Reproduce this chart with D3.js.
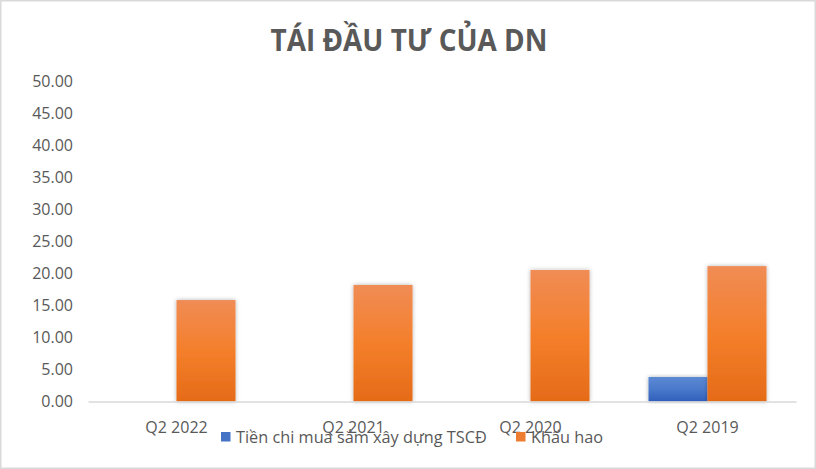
<!DOCTYPE html>
<html><head><meta charset="utf-8">
<script src="https://cdn.jsdelivr.net/npm/d3@7"></script>
<style>
html,body{margin:0;padding:0;background:#fff;}
svg{display:block;}
</style></head>
<body>
<svg id="chart" width="816" height="469"></svg>
<script>
const categories = ["Q2 2022", "Q2 2021", "Q2 2020", "Q2 2019"];
const seriesNames = ["Tiền chi mua sắm xây dựng TSCĐ", "Khấu hao"];
const tienChi = [0, 0, 0, 3.83];
const khauHao = [15.85, 18.2, 20.55, 21.15];
const yTicks = [0, 5, 10, 15, 20, 25, 30, 35, 40, 45, 50];
const title = "TÁI ĐẦU TƯ CỦA DN";

const svg = d3.select("#chart");
const W = 816, H = 469;
const textColor = "#595959";
const font = "'Open Sans', sans-serif";

svg.append("rect").attr("x", 0.75).attr("y", 0.75).attr("width", W - 1.5).attr("height", H - 1.5)
  .attr("fill", "#fff").attr("stroke", "#d9d9d9").attr("stroke-width", 1.5);

const defs = svg.append("defs");
function grad(id, top, mid, bot) {
  const g = defs.append("linearGradient").attr("id", id).attr("x1", 0).attr("y1", 0).attr("x2", 0).attr("y2", 1);
  g.append("stop").attr("offset", "0%").attr("stop-color", top);
  g.append("stop").attr("offset", "50%").attr("stop-color", mid);
  g.append("stop").attr("offset", "100%").attr("stop-color", bot);
}
grad("gBlue", "#5d89d3", "#4a79cb", "#2f5fbb");
grad("gOrange", "#f08c55", "#f47f2b", "#e56b18");
const f = defs.append("filter").attr("id", "shadow").attr("x", "-20%").attr("y", "-10%").attr("width", "140%").attr("height", "120%");
f.append("feDropShadow").attr("dx", 0).attr("dy", 0).attr("stdDeviation", 2).attr("flood-color", "#000").attr("flood-opacity", 0.3);

const colors = ["url(#gBlue)", "url(#gOrange)"];
const legendColors = ["#4472c4", "#ed7d31"];

const y = d3.scaleLinear().domain([0, 50]).range([401.5, 81.5]);
const x0 = d3.scaleBand().domain(categories).range([88, 796]).paddingInner(0).paddingOuter(0);
const x1 = d3.scaleBand().domain(seriesNames).range([0, x0.bandwidth()]).paddingInner(0).paddingOuter(0.5);

svg.append("text").attr("transform", "translate(409,51) scale(0.9,1)").attr("text-anchor", "middle")
  .attr("font-family", font).attr("font-weight", "bold").attr("font-size", 31)
  .attr("fill", textColor).text(title);

// y axis labels
const yAxis = d3.axisLeft(y).tickValues(yTicks).tickFormat(d3.format(".2f")).tickSize(0).tickPadding(0);
const yg = svg.append("g").attr("transform", "translate(73,0)").call(yAxis);
yg.select(".domain").remove();
yg.selectAll("text").attr("font-family", font).attr("font-size", 16).attr("fill", textColor);

// bars
const data = categories.map((c, i) => ({c, vals: [tienChi[i], khauHao[i]]}));
const groups = svg.append("g").selectAll("g").data(data).join("g")
  .attr("transform", d => `translate(${x0(d.c)},0)`);
groups.selectAll("rect").data(d => d.vals.map((v, k) => ({v, k})).filter(e => e.v > 0)).join("rect")
  .attr("x", e => x1(seriesNames[e.k]))
  .attr("width", x1.bandwidth())
  .attr("y", e => y(e.v))
  .attr("height", e => y(0) - y(e.v))
  .attr("fill", e => colors[e.k])
  .attr("filter", "url(#shadow)");

// x axis
const xAxis = d3.axisBottom(x0).tickSize(0).tickPadding(0);
const xg = svg.append("g").attr("transform", `translate(0,${y(0)})`).call(xAxis);
xg.select(".domain").attr("stroke", "#d9d9d9").attr("stroke-width", 1.5);
xg.selectAll("text").attr("font-family", font).attr("font-size", 16).attr("fill", textColor)
  .attr("dy", null).attr("y", 31);

// legend
const legX = [221, 516];
const leg = svg.append("g").selectAll("g").data(seriesNames).join("g")
  .attr("transform", (d, i) => `translate(${legX[i]},432)`);
leg.append("rect").attr("width", 9.5).attr("height", 9.5).attr("fill", (d, i) => legendColors[i]);
leg.append("text").attr("x", 15).attr("y", 11).attr("font-family", font).attr("font-size", 16.3)
  .attr("fill", textColor).text(d => d);
</script>
</body></html>
